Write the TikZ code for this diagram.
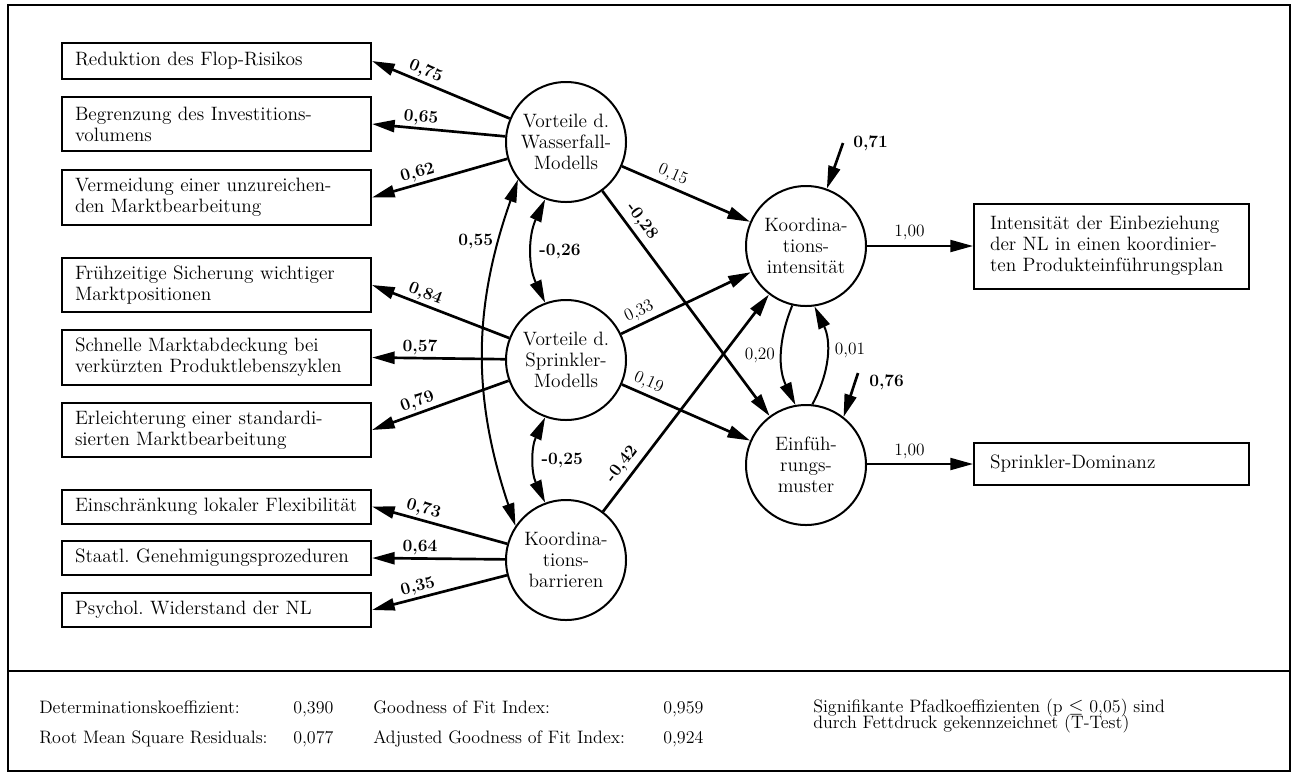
\documentclass[tikz,border=0pt]{standalone}
\usepackage{fontspec}
\usetikzlibrary{arrows.meta}
\begin{document}
\begin{tikzpicture}[x=0.75pt,y=-0.75pt,
  every node/.style={font=\fontsize{14.5}{15.75}\selectfont},
  box/.style={draw, line width=1.5pt, text width=212.25pt, align=left, inner xsep=9.75pt, inner ysep=0pt},
  rbox/.style={draw, line width=1.5pt, text width=182.25pt, align=left, inner xsep=12pt, inner ysep=0pt, minimum width=206.25pt},
  lv/.style={draw, circle, line width=1.5pt, minimum size=90pt, inner sep=0pt, align=center},
  tip/.tip={Triangle[length=17pt,width=9pt]},
  arr/.style={line width=2pt, -tip},
  arrthin/.style={line width=1.5pt, -tip},
  cov/.style={line width=1.5pt, tip-tip},
  lab/.style={font=\fontsize{13}{13}\selectfont\bfseries, inner sep=1.5pt},
  labr/.style={font=\fontsize{13}{13}\selectfont, inner sep=1.5pt},
  btxt/.style={font=\fontsize{13.5}{14}\selectfont, anchor=base west, inner sep=0pt}
]
\useasboundingbox (0,0) rectangle (1295,776);
% frame
\draw[line width=1.5pt] (8,5) rectangle (1290,771);
\draw[line width=2pt] (8,671) -- (1290,671);

% left boxes
\node[box, minimum height=27pt] (b1) at (216.5,61) {Reduktion des Flop-Risikos};
\node[box, minimum height=40.5pt] (b2) at (216.5,124) {Begrenzung des Investitions-\\volumens};
\node[box, minimum height=41.25pt] (b3) at (216.5,197.5) {Vermeidung einer unzureichen-\\den Marktbearbeitung};
\node[box, minimum height=40.5pt] (b4) at (216.5,285) {Frühzeitige Sicherung wichtiger\\Marktpositionen};
\node[box, minimum height=41.25pt] (b5) at (216.5,357.5) {Schnelle Marktabdeckung bei\\verkürzten Produktlebenszyklen};
\node[box, minimum height=40.5pt] (b6) at (216.5,430) {Erleichterung einer standardi-\\sierten Marktbearbeitung};
\node[box, minimum height=25.5pt] (b7) at (216.5,506.5) {Einschränkung lokaler Flexibilität};
\node[box, minimum height=25.5pt] (b8) at (216.5,558) {Staatl.\ Genehmigungsprozeduren};
\node[box, minimum height=25.5pt] (b9) at (216.5,610) {Psychol.\ Widerstand der NL};

% latent variables
\node[lv] (wf) at (566,142) {Vorteile d.\\Wasserfall-\\Modells};
\node[lv] (sp) at (566,360) {Vorteile d.\\Sprinkler-\\Modells};
\node[lv] (bar) at (566,560) {Koordina-\\tions-\\barrieren};
\node[lv] (koord) at (806,246) {Koordina-\\tions-\\intensität};
\node[lv] (einf) at (806,465) {Einfüh-\\rungs-\\muster};

% right boxes
\node[rbox, minimum height=63.75pt] (r1) at (1111.5,246) {Intensität der Einbeziehung\\der NL in einen koordinier-\\ten Produkteinführungsplan};
\node[rbox, minimum height=31.5pt] (r2) at (1111.5,464) {Sprinkler-Dominanz};

% measurement arrows
\draw[arr] (wf) -- node[lab,pos=0.64,sloped,above]{0,75} (b1.east);
\draw[arr] (wf) -- node[lab,pos=0.64,sloped,above]{0,65} (b2.east);
\draw[arr] (wf) -- node[lab,pos=0.64,sloped,above]{0,62} (b3.east);
\draw[arr] (sp) -- node[lab,pos=0.64,sloped,above]{0,84} (b4.east);
\draw[arr] (sp) -- node[lab,pos=0.64,sloped,above]{0,57} (b5.east);
\draw[arr] (sp) -- node[lab,pos=0.64,sloped,above]{0,79} (b6.east);
\draw[arr] (bar) -- node[lab,pos=0.64,sloped,above]{0,73} (b7.east);
\draw[arr] (bar) -- node[lab,pos=0.64,sloped,above]{0,64} (b8.east);
\draw[arr] (bar) -- node[lab,pos=0.64,sloped,above]{0,35} (b9.east);

% structural paths
\draw[arr] (wf) -- node[labr,pos=0.36,sloped,above=1pt]{0,15} (koord);
\draw[arr] (wf) -- node[lab,pos=0.17,sloped,above=2pt]{-0,28} (einf);
\draw[arr] (sp) -- node[labr,pos=0.18,sloped,above=1pt]{0,33} (koord);
\draw[arr] (sp) -- node[labr,pos=0.17,sloped,above=1pt]{0,19} (einf);
\draw[arr] (bar) -- node[lab,pos=0.18,sloped,above=2pt]{-0,42} (koord);

% covariances
\draw[cov] (wf.250) to[bend right=25] node[lab,right=3pt]{-0,26} (sp.110);
\draw[cov] (sp.250) to[bend right=25] node[lab,right=3pt]{-0,25} (bar.110);
\draw[cov] (wf.218) to[bend right=19] node[lab,pos=0.17,left=2pt]{0,55} (bar.146);

% reciprocal paths
\draw[arrthin] (koord.257) to[bend right=24] node[labr,left=3pt]{0,20} (einf.100);
\draw[arrthin] (einf.84) to[bend right=27] node[labr,pos=0.55,right=4pt]{0,01} (koord.278);

% residuals
\coordinate (e1) at (843,143);
\coordinate (e2) at (858,373);
\draw[arr] (e1) -- (koord.70);
\draw[arr] (e2) -- (einf.52);
\node[lab, anchor=west] (l71) at (851,143) {0,71};
\node[lab, anchor=west] (l76) at (867,382) {0,76};

% outputs
\draw[arrthin] (koord) -- node[labr,pos=0.4,above=2pt]{1,00} (r1);
\draw[arrthin] (einf.east |- r2) -- node[labr,pos=0.4,above=2pt]{1,00} (r2);

% bottom statistics
\node[btxt] (t1) at (39,713) {Determinationskoeffizient:};
\node[btxt] (v1) at (293,713) {0,390};
\node[btxt] (t2) at (373,713) {Goodness of Fit Index:};
\node[btxt] (v2) at (663,713) {0,959};
\node[btxt] (t3) at (39,743) {Root Mean Square Residuals:};
\node[btxt] (v3) at (293,743) {0,077};
\node[btxt] (t4) at (373,743) {Adjusted Goodness of Fit Index:};
\node[btxt] (v4) at (663,743) {0,924};
\node[btxt] (s1) at (813,712) {Signifikante Pfadkoeffizienten (p $\leq$ 0,05) sind};
\node[btxt] (s2) at (813,728) {durch Fettdruck gekennzeichnet (T-Test)};
\end{tikzpicture}
\end{document}
